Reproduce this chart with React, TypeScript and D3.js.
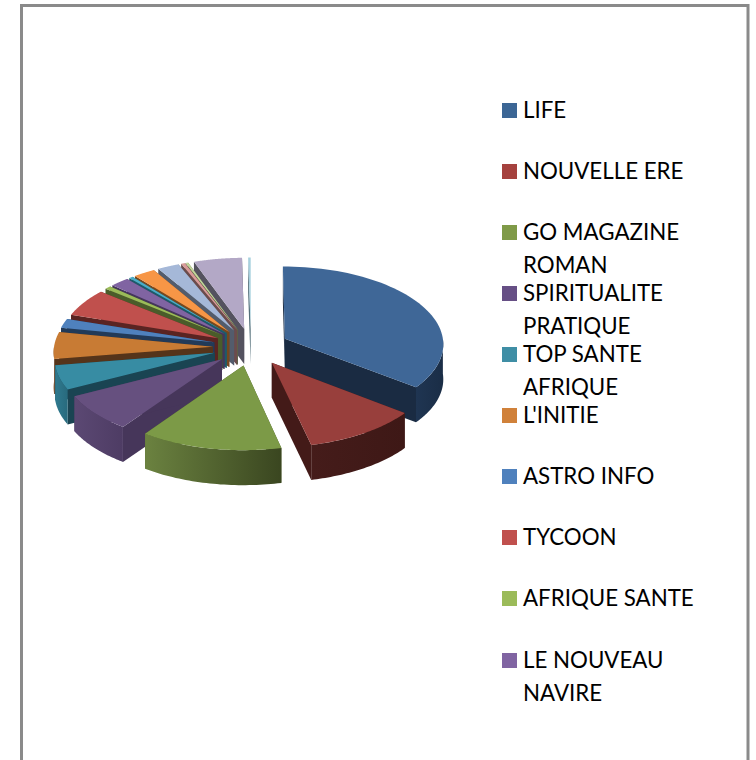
import React from "react";
import * as d3 from "d3";

const W = 756, H = 760;

// Slice sizes, in degrees of the pie, clockwise from 12 o'clock
const sliceValues = [127.5, 39.5, 48.5, 27.5, 18, 20, 7, 21, 2.5, 7.5, 1.5, 8.5, 8.5, 1.5, 1, 19, 1];
const topColors = ["#3f6797", "#983f3c", "#7c9a47", "#66507f", "#378ca3", "#c87b34", "#4f81bd", "#c0504d", "#9bbb59", "#8064a2", "#4bacc6", "#f79646", "#a5b8d8", "#d99b99", "#c3d69b", "#b3a8c6", "#a7d1de"];
const wallColors = ["#1a2b42", "#431a18", "#4a5c2a", "#46365a", "#1a4452", "#55341a", "#223a58", "#5a2422", "#4a5c2a", "#44365a", "#1d5a6a", "#75481f", "#535c6c", "#6c4c4c", "#5c6a4a", "#54525f", "#54707a"];
const rimLeftColors = ["#1f3552", "#451c1a", "#6b8240", "#5b4873", "#2f7a8f", "#7a4a20", "#2a4a70", "#6a2c2a", "#5c6a4a", "#4c3d62", "#2a7186", "#8a5526", "#5c6a80", "#7a5a5a", "#6c7a5a", "#5f5d6c", "#6c8a94"];
const rimRightColors = ["#1a2d46", "#3e1816", "#3a4620", "#4e3c64", "#286a7d", "#6a4019", "#223a58", "#5a2422", "#4a5c2a", "#44365a", "#1d5a6a", "#75481f", "#535c6c", "#6c4c4c", "#5c6a4a", "#54525f", "#54707a"];

const legendLabels = [["LIFE"], ["NOUVELLE ERE"], ["GO MAGAZINE", "ROMAN"], ["SPIRITUALITE", "PRATIQUE"], ["TOP SANTE", "AFRIQUE"], ["L'INITIE"], ["ASTRO INFO"], ["TYCOON"], ["AFRIQUE SANTE"], ["LE NOUVEAU", "NAVIRE"]];
const legendColors = ["#3c6695", "#a5413e", "#7f9a48", "#664f85", "#3f8ea5", "#d0813a", "#4f81bd", "#c0504d", "#9bbb59", "#8064a2"];
const legendRowY = [110, 171, 232, 293, 354, 415, 476, 537, 598, 660];

const cx = 251, cy = 347, R = 159, ratio = 0.49, depth = 35, explode = 38, persp = 0.059;

const pie = d3.pie<number>().sort(null).value((d) => d).startAngle(0).endAngle(2 * Math.PI);
const arcs = pie(sliceValues);
const line = d3.line();

// ground plane (u right, v toward viewer) to screen, with a slight perspective
const project = (u: number, v: number): [number, number] => {
  const p = 1 + (persp * v) / R;
  return [cx + u * p, cy + ratio * v * p];
};

export default function App() {
  const slices = arcs.map((a, i) => {
    const mid = (a.startAngle + a.endAngle) / 2;
    return { a, i, mid, ou: explode * Math.sin(mid), ov: -explode * Math.cos(mid) };
  });
  const order = [...slices].sort((p, q) => -Math.cos(p.mid) - -Math.cos(q.mid));
  return (
    <svg width={W} height={H} style={{ position: "absolute", left: 0, top: 0, background: "#fff" }} fontFamily="Lato">
      <defs>
        {slices.map(({ i }) => (
          <linearGradient key={i} id={`rim${i}`} x1="0" x2="1" y1="0" y2="0">
            <stop offset="0" stopColor={rimLeftColors[i]} />
            <stop offset="1" stopColor={rimRightColors[i]} />
          </linearGradient>
        ))}
      </defs>
      <rect x={21.5} y={5.5} width={726.5} height={H + 20} fill="#fff" stroke="#8a8a8a" strokeWidth={3} />
      {order.map(({ a, i, ou, ov }) => {
        const rimPt = (t: number) => project(ou + R * Math.sin(t), ov - R * Math.cos(t));
        const apex = project(ou, ov);
        const down = (q: [number, number]): [number, number] => [q[0], q[1] + depth];
        const wall = (t: number) => {
          const q = rimPt(t);
          return line([apex, q, down(q), down(apex)])! + "Z";
        };
        const lo = Math.max(a.startAngle, Math.PI / 2);
        const hi = Math.min(a.endAngle, (3 * Math.PI) / 2);
        let rim: string | null = null;
        if (hi > lo) {
          const angs = d3.range(0, 41).map((k) => lo + ((hi - lo) * k) / 40);
          const upper = angs.map(rimPt);
          rim = line([...upper, ...upper.slice().reverse().map(down)])! + "Z";
        }
        const topAngs = d3.range(0, 61).map((k) => a.startAngle + ((a.endAngle - a.startAngle) * k) / 60);
        const top = line([apex, ...topAngs.map(rimPt)])! + "Z";
        return (
          <g key={i}>
            <path d={wall(a.startAngle)} fill={wallColors[i]} />
            <path d={wall(a.endAngle)} fill={wallColors[i]} />
            {rim && <path d={rim} fill={`url(#rim${i})`} />}
            <path d={top} fill={topColors[i]} />
          </g>
        );
      })}
      {legendLabels.map((lines, i) => (
        <g key={i}>
          <rect x={502} y={legendRowY[i] - 7} width={15} height={15} fill={legendColors[i]} />
          {lines.map((t, j) => (
            <text key={j} x={523} y={legendRowY[i] + 8 + j * 33} fontSize={22.3} fill="#000">{t}</text>
          ))}
        </g>
      ))}
    </svg>
  );
}
